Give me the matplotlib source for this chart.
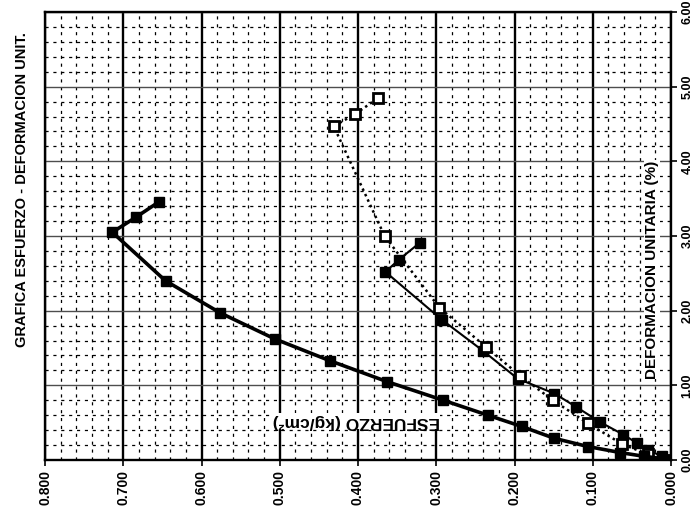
import numpy as np
import matplotlib
matplotlib.use("Agg")
import matplotlib.pyplot as plt

plt.rcParams["font.family"] = ["Liberation Sans", "DejaVu Sans"]

# Datos (esfuerzo kg/cm2, deformacion %)
esf_1 = [0.000, 0.012, 0.035, 0.065, 0.106, 0.149, 0.191, 0.234, 0.291,
         0.363, 0.436, 0.506, 0.576, 0.646, 0.714, 0.684, 0.654]
def_1 = [0.00, 0.02, 0.05, 0.10, 0.18, 0.29, 0.45, 0.60, 0.80,
         1.05, 1.33, 1.62, 1.97, 2.40, 3.05, 3.25, 3.46]

esf_2 = [0.000, 0.030, 0.062, 0.106, 0.151, 0.193, 0.236, 0.296,
         0.366, 0.431, 0.404, 0.374]
def_2 = [0.00, 0.08, 0.21, 0.49, 0.80, 1.13, 1.51, 2.04,
         3.00, 4.47, 4.63, 4.85]

esf_3 = [0.000, 0.012, 0.030, 0.044, 0.061, 0.091, 0.121, 0.149,
         0.196, 0.240, 0.293, 0.365, 0.348, 0.321]
def_3 = [0.00, 0.05, 0.14, 0.23, 0.34, 0.51, 0.71, 0.89,
         1.09, 1.46, 1.88, 2.52, 2.68, 2.91]

x_ticks = [0.8, 0.7, 0.6, 0.5, 0.4, 0.3, 0.2, 0.1, 0.0]
y_ticks = [0, 1, 2, 3, 4, 5, 6]

W, H = 698, 529
fig = plt.figure(figsize=(W / 100, H / 100), dpi=100)
ax = fig.add_axes([45 / W, 1 - 460 / H, (671 - 45) / W, (460 - 12) / H])

ax.set_xlim(0.8, 0.0)
ax.set_ylim(0, 6)

# rejilla
ax.set_xticks(x_ticks)
ax.set_yticks(y_ticks)
ax.set_xticks(np.arange(0, 0.8001, 0.02), minor=True)
ax.set_yticks(np.arange(0, 6.001, 0.2), minor=True)
ax.grid(which="major", axis="x", color="k", lw=1.7)
ax.grid(which="major", axis="y", color="0.3", lw=1.0)
ax.grid(which="minor", color="k", lw=0.9, linestyle=(0, (2.5, 3.8)))
ax.tick_params(which="minor", length=0)
ax.set_axisbelow(True)

ax.yaxis.tick_right()
ax.tick_params(axis="x", which="major", direction="out", length=4,
               width=1.2, labelsize=10)
ax.tick_params(axis="y", which="major", direction="out", length=4,
               width=1.2, labelsize=9)
ax.set_xticklabels([f"{v:.3f}" for v in x_ticks], rotation=90, fontweight="bold")
ax.set_yticklabels([f"{v:.2f}" for v in y_ticks], rotation=90, fontweight="bold",
                   va="center")

for s in ax.spines.values():
    s.set_linewidth(1.7)

# series
ax.plot(esf_3, def_3, color="k", lw=1.5, marker="s", ms=6.5,
        mfc="k", mec="k", zorder=3)
ax.plot(esf_2, def_2, color="k", lw=1.8, linestyle=(0, (1, 1.4)), marker="s",
        ms=7, mfc="white", mec="k", mew=2.0, zorder=4)
ax.plot(esf_1, def_1, color="k", lw=2.6, marker="s", ms=7,
        mfc="k", mec="k", zorder=5)

ax.text(0.970, 0.425, "DEFORMACION UNITARIA (%)", transform=ax.transAxes,
        rotation=90, ha="center", va="center", fontsize=11, fontweight="bold",
        bbox=dict(facecolor="white", edgecolor="none", pad=0.5), zorder=6)
ax.text(0.497, 0.087, "ESFUERZO (kg/cm\u00b2)", transform=ax.transAxes,
        rotation=180, ha="center", va="center", fontsize=12.5, fontweight="bold",
        bbox=dict(facecolor="white", edgecolor="none", pad=0.5), zorder=6)

fig.text(22 / W, 1 - 190 / H, "GRAFICA ESFUERZO - DEFORMACION UNIT.",
         rotation=90, ha="center", va="center", fontsize=10.5, fontweight="bold")

fig.savefig("out.png", dpi=100)
